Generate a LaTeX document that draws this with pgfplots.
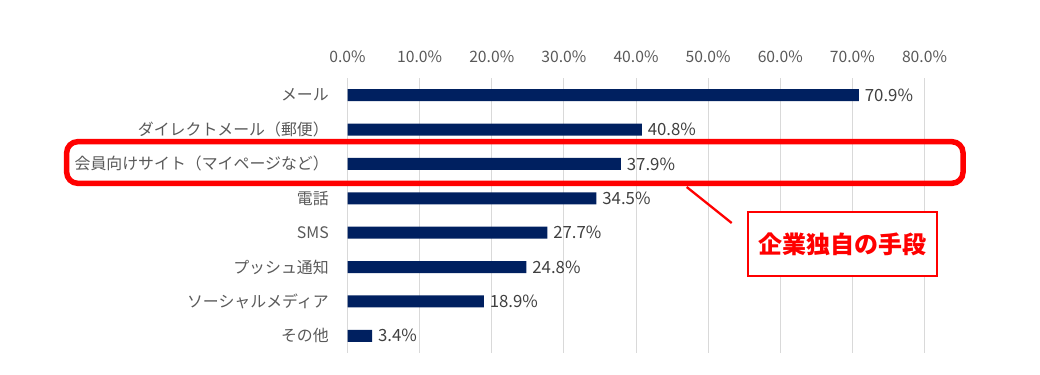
\documentclass[border=0pt]{standalone}
\usepackage{pgfplots}
\pgfplotsset{compat=1.18}
\usepackage{fontspec}
\setmainfont{Noto Sans CJK JP}
\definecolor{barblue}{HTML}{002060}
\definecolor{tickgray}{HTML}{595959}
\definecolor{valgray}{HTML}{404040}
\definecolor{gridgray}{HTML}{D9D9D9}
\definecolor{callred}{HTML}{FF0000}
\begin{document}
\begin{tikzpicture}[x=1bp,y=1bp]
\path[use as bounding box] (0,0) rectangle (1040,374);
\begin{axis}[
  at={(347.5bp,21bp)}, anchor=south west,
  scale only axis, width=577bp, height=275bp,
  xbar, bar width=12bp,
  xmin=0, xmax=80,
  ymin=-0.5, ymax=7.5, y dir=reverse,
  axis x line*=top,
  axis line style={draw=none},
  major tick style={draw=none},
  xtick={0,10,...,80},
  xmajorgrids, grid style={gridgray, line width=0.8bp},
  /pgf/number format/assume math mode=true,
  xticklabel={\pgfmathprintnumber[fixed,fixed zerofill,precision=1]{\tick}\%},
  xticklabel style={font=\fontsize{15.7bp}{17bp}\selectfont, text=tickgray, yshift=12bp},
  ytick={0,...,7},
  yticklabels={メール,ダイレクトメール（郵便）,会員向けサイト（マイページなど）,電話,SMS,プッシュ通知,ソーシャルメディア,その他},
  yticklabel style={font=\fontsize{15.9bp}{18bp}\selectfont, text=tickgray, xshift=-11bp},
  nodes near coords={\pgfmathprintnumber[fixed,fixed zerofill,precision=1]{\pgfplotspointmeta}\%},
  every node near coord/.append style={anchor=west, font=\fontsize{16.8bp}{18bp}\selectfont, text=valgray, xshift=2.5bp, yshift=0bp},
  point meta=explicit,
]
\addplot[draw=none, fill=barblue] coordinates {
  (70.9,0) [70.9]
  (40.8,1) [40.8]
  (37.9,2) [37.9]
  (34.5,3) [34.5]
  (27.7,4) [27.7]
  (24.8,5) [24.8]
  (18.9,6) [18.9]
  (3.4,7) [3.4]
};
\end{axis}
\draw[callred, line width=5.5bp, rounded corners=11bp] (66.7,190.7) rectangle (963,232.3);
\draw[callred, line width=2.3bp] (686.7,187) -- (731.7,151);
\draw[callred, line width=2.3bp, fill=white] (747.9,98.2) rectangle (936.8,161.8);
\node[text=callred, font=\fontsize{24bp}{27bp}\selectfont\bfseries] at (842.3,130) {企業独自の手段};
\end{tikzpicture}
\end{document}
